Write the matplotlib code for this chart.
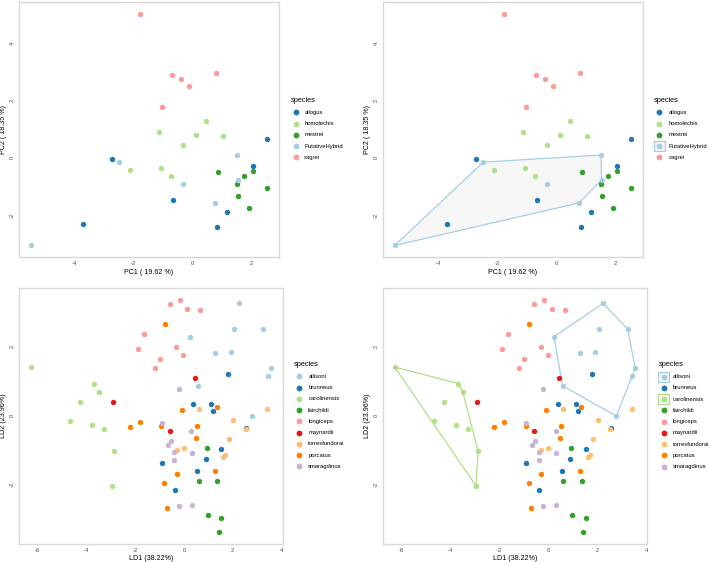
import numpy as np
import matplotlib
matplotlib.use("Agg")
import matplotlib.pyplot as plt
from matplotlib.lines import Line2D
from matplotlib.patches import Rectangle, Polygon

plt.rcParams['font.family'] = ['Liberation Sans', 'DejaVu Sans']

# ---------------- PCA data (top panels) ----------------
pca_species = ["allogus", "homolechis", "mestrei", "PutativeHybrid", "sagrei"]
pca_colors = ["#1F78B4", "#B2DF8A", "#33A02C", "#A6CEE3", "#FB9A99"]
allogus_pc1 = [-2.71, -0.64, -3.70, 0.83, 1.17, 2.53, 2.05]
allogus_pc2 = [-0.03, -1.48, -2.31, -2.41, -1.91, 0.66, -0.30]
homolechis_pc1 = [-1.13, 0.45, 0.12, -0.31, 1.04, -2.10, -1.06, -0.73]
homolechis_pc2 = [0.91, 1.28, 0.81, 0.44, 0.78, -0.41, -0.37, -0.62]
mestrei_pc1 = [0.86, 1.73, 2.06, 1.50, 1.56, 1.90, 2.51]
mestrei_pc2 = [-0.51, -0.62, -0.45, -0.90, -1.35, -1.77, -1.05]
hybrid_pc1 = [-5.46, -2.47, -0.30, 1.51, 1.53, 0.77]
hybrid_pc2 = [-3.07, -0.15, -0.92, 0.10, -0.77, -1.58]
sagrei_pc1 = [-1.76, -0.70, -0.39, -0.12, 0.79, -1.01]
sagrei_pc2 = [5.06, 2.91, 2.77, 2.51, 2.99, 1.77]
pca_x = [allogus_pc1, homolechis_pc1, mestrei_pc1, hybrid_pc1, sagrei_pc1]
pca_y = [allogus_pc2, homolechis_pc2, mestrei_pc2, hybrid_pc2, sagrei_pc2]
pca_xticks = [-4, -2, 0, 2]
pca_yticks = [-2, 0, 2, 4]
pca_hull = ["PutativeHybrid"]

# ---------------- LDA data (bottom panels) ----------------
lda_species = ["allisoni", "brunneus", "carolinensis", "fairchildi", "longiceps",
               "maynardii", "torresfundorai", "porcatus", "smaragdinus"]
lda_colors = ["#A6CEE3", "#1F78B4", "#B2DF8A", "#33A02C", "#FB9A99",
              "#E31A1C", "#FDBF6F", "#FF7F00", "#CAB2D6"]
allisoni_ld1 = [2.25, 2.06, 3.25, 0.23, 1.28, 1.93, 3.56, 3.44, 0.59, 2.78]
allisoni_ld2 = [3.26, 2.51, 2.51, 2.29, 1.82, 1.86, 1.37, 1.15, 0.86, -0.01]
brunneus_ld1 = [1.80, 0.38, 1.13, 1.20, -0.89, 0.90, 1.54, 0.55, -0.36, 2.56]
brunneus_ld2 = [1.20, 0.33, 0.35, 0.14, -1.37, -1.26, -0.96, -1.62, -2.17, -0.36]
carolinensis_ld1 = [-6.28, -3.68, -3.50, -4.28, -4.68, -3.76, -3.27, -2.87, -2.96]
carolinensis_ld2 = [1.41, 0.93, 0.69, 0.40, -0.17, -0.26, -0.38, -1.03, -2.04]
fairchildi_ld1 = [0.94, 0.61, 1.37, 0.99, 1.54, 1.43]
fairchildi_ld2 = [-0.94, -1.90, -1.90, -2.90, -2.99, -3.38]
longiceps_ld1 = [-0.58, -0.18, 0.14, 0.68, -1.63, -1.90, -0.31, -0.02, -0.99, -1.20]
longiceps_ld2 = [3.24, 3.36, 3.10, 3.06, 2.37, 1.93, 1.98, 1.75, 1.63, 1.38]
maynardii_ld1 = [-2.93, 0.46, -0.59]
maynardii_ld2 = [0.40, 1.09, -0.45]
torres_ld1 = [0.61, 2.03, 2.54, 1.85, 1.70, 1.62, 0.00, -0.30, 3.43]
torres_ld2 = [0.20, -0.13, -0.39, -0.69, -1.15, -1.19, -0.94, -1.01, 0.19]
porcatus_ld1 = [-0.78, -0.09, 1.35, -2.23, -1.81, -0.93, 0.53, 0.50, -0.28, -0.80, 1.29, -0.71]
porcatus_ld2 = [2.67, 0.17, 0.24, -0.34, -0.19, -0.29, -0.30, -0.66, -1.71, -1.95, -1.60, -2.70]
smarag_ld1 = [-0.21, -0.92, 0.30, -0.54, -0.66, -0.39, 0.32, -0.39, -0.21, 0.32]
smarag_ld2 = [0.76, -0.22, -0.44, -0.74, -0.86, -1.06, -1.09, -1.28, -2.62, -2.60]
lda_x = [allisoni_ld1, brunneus_ld1, carolinensis_ld1, fairchildi_ld1, longiceps_ld1,
         maynardii_ld1, torres_ld1, porcatus_ld1, smarag_ld1]
lda_y = [allisoni_ld2, brunneus_ld2, carolinensis_ld2, fairchildi_ld2, longiceps_ld2,
         maynardii_ld2, torres_ld2, porcatus_ld2, smarag_ld2]
lda_xticks = [-6, -4, -2, 0, 2, 4]
lda_yticks = [-2, 0, 2]
lda_hull = ["allisoni", "carolinensis"]

W, H = 709, 562
fig = plt.figure(figsize=(W / 100, H / 100), dpi=100)


def ax_at(left, top, right, bottom):
    return fig.add_axes([left / W, 1 - bottom / H, (right - left) / W, (bottom - top) / H])


def convex_hull(xs, ys):
    pts = sorted(set(zip(xs, ys)))
    if len(pts) < 3:
        return pts

    def cross(o, a, b):
        return (a[0] - o[0]) * (b[1] - o[1]) - (a[1] - o[1]) * (b[0] - o[0])
    lower, upper = [], []
    for p in pts:
        while len(lower) >= 2 and cross(lower[-2], lower[-1], p) <= 0:
            lower.pop()
        lower.append(p)
    for p in reversed(pts):
        while len(upper) >= 2 and cross(upper[-2], upper[-1], p) <= 0:
            upper.pop()
        upper.append(p)
    return lower[:-1] + upper[:-1]


def panel(ax, species, colors, xs, ys, xticks, yticks, xlabel, ylabel, hull, hull_fill):
    allx = np.concatenate([np.array(v) for v in xs])
    ally = np.concatenate([np.array(v) for v in ys])
    for sp, c, x, y in zip(species, colors, xs, ys):
        if sp in hull:
            h = convex_hull(x, y)
            ax.add_patch(Polygon(h, closed=True, facecolor=hull_fill, edgecolor=c,
                                 linewidth=0.9, zorder=1))
    for sp, c, x, y in zip(species, colors, xs, ys):
        ax.scatter(x, y, s=15, color=c, linewidths=0, zorder=3)
    rx = allx.max() - allx.min()
    ry = ally.max() - ally.min()
    ax.set_xlim(allx.min() - 0.05 * rx, allx.max() + 0.05 * rx)
    ax.set_ylim(ally.min() - 0.05 * ry, ally.max() + 0.05 * ry)
    ax.set_xticks(xticks)
    ax.set_yticks(yticks)
    ax.set_xticklabels([str(t) for t in xticks])
    ax.set_yticklabels([str(t) for t in yticks], rotation=90, va='center')
    ax.tick_params(length=0, labelsize=4.2, colors='#4D4D4D', pad=3)
    for s in ax.spines.values():
        s.set_color('#D9D9D9')
        s.set_linewidth(1.0)
    ax.set_xlabel(xlabel, fontsize=5.1, labelpad=2)
    ax.set_ylabel(ylabel, fontsize=5.1, labelpad=2)
    ax.set_facecolor('white')


def legend(title_x, title_y, key_x, text_x, first_y, species, colors, hull):
    fig.text(title_x / W, 1 - title_y / H, "species", fontsize=5.3, va='center', ha='left')
    for i, (sp, c) in enumerate(zip(species, colors)):
        y = first_y + i * 11.25
        if sp in hull:
            fig.add_artist(Rectangle(((key_x - 5.3) / W, 1 - (y + 5.0) / H), 10.6 / W, 10.0 / H,
                                     transform=fig.transFigure, facecolor='#F7F7F7',
                                     edgecolor=c, linewidth=0.9))
        fig.add_artist(Line2D([key_x / W], [1 - y / H], marker='o', markersize=4.2,
                              color=c, markeredgewidth=0, linestyle='None',
                              transform=fig.transFigure))
        fig.text(text_x / W, 1 - y / H, sp, fontsize=4.2, va='center', ha='left')


ax1 = ax_at(19, 2, 279, 257)
panel(ax1, pca_species, pca_colors, pca_x, pca_y, pca_xticks, pca_yticks,
      "PC1 ( 19.62 %)", "PC2 ( 18.35 %)", [], 'none')
legend(290.5, 100.5, 295.7, 304.3, 112.3, pca_species, pca_colors, [])

ax2 = ax_at(383, 2, 643, 257)
panel(ax2, pca_species, pca_colors, pca_x, pca_y, pca_xticks, pca_yticks,
      "PC1 ( 19.62 %)", "PC2 ( 18.35 %)", pca_hull, '#F7F7F7')
legend(654, 100.5, 659.3, 668.7, 112.3, pca_species, pca_colors, pca_hull)

ax3 = ax_at(19, 288.3, 282.6, 543.5)
panel(ax3, lda_species, lda_colors, lda_x, lda_y, lda_xticks, lda_yticks,
      "LD1 (38.22%)", "LD2 (23.96%)", [], 'none')
legend(294, 364.3, 299.3, 308.3, 376.3, lda_species, lda_colors, [])

ax4 = ax_at(382.7, 288.3, 647.3, 543.5)
panel(ax4, lda_species, lda_colors, lda_x, lda_y, lda_xticks, lda_yticks,
      "LD1 (38.22%)", "LD2 (23.96%)", lda_hull, 'none')
legend(658.3, 364.3, 663.7, 672.7, 376.7, lda_species, lda_colors, lda_hull)

fig.savefig("out.png", dpi=100, facecolor='white')
